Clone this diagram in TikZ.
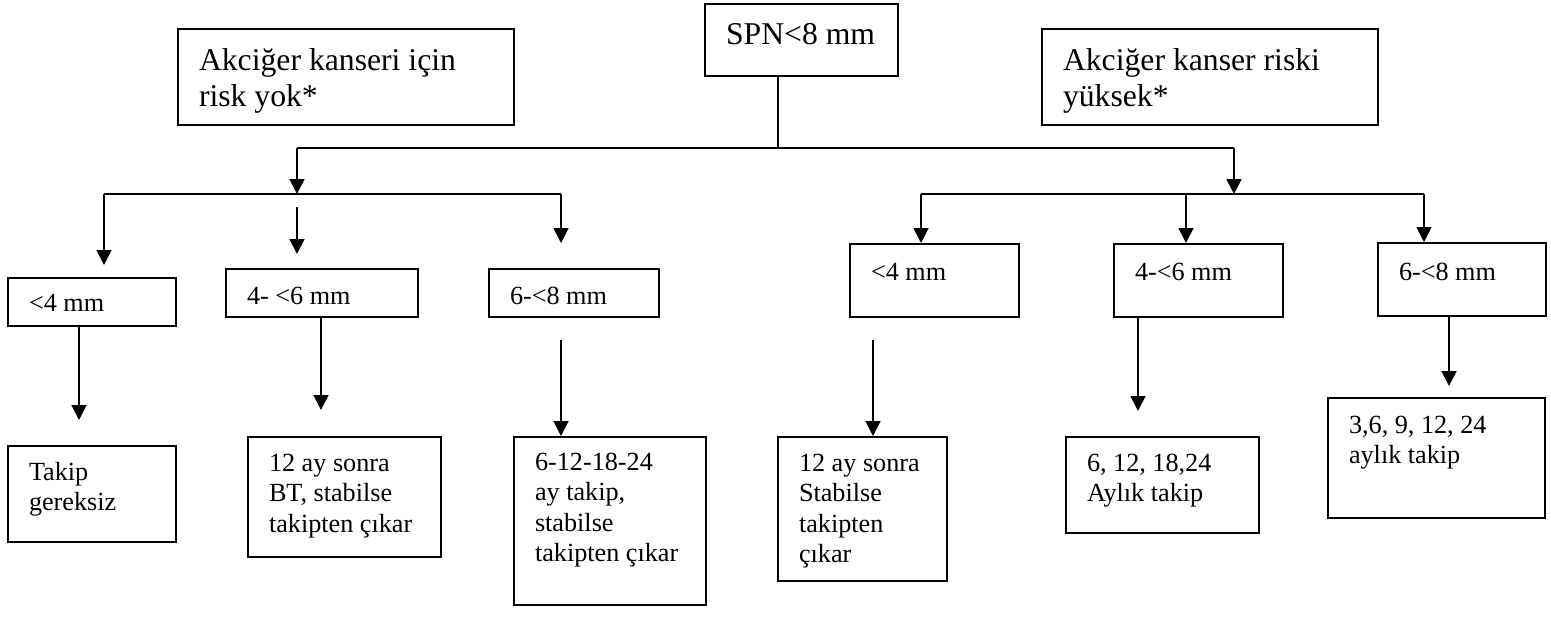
\documentclass[tikz,border=0pt]{standalone}
\usepackage{fontspec}
\setmainfont{Liberation Serif}
\usepackage{tikz}
\usetikzlibrary{arrows.meta}
\newcommand{\fchfont}{\fontsize{31.7pt}{36.5pt}\selectfont}
\newcommand{\fcbox}[6] {\node at (#1) (#2) [draw, line width=2pt, inner sep=0pt, anchor=north west, minimum width=#3pt, minimum height=#4pt] {\parbox[c][#4pt][t]{#3pt}{\raggedright\leftskip=21pt\rule{0pt}{#5pt}#6}};}
\newcommand{\fcjoin}[2] {\draw (#1) -- (#2);}
\newcommand{\fcarrow}[2] {\draw [-{Triangle[length=15pt, width=15pt]}] (#1) -- (#2);}

\begin{document}
\begin{tikzpicture}[x=1pt, y=-1pt, line width=1.8pt, font=\fontsize{26.2pt}{30.5pt}\selectfont]
\useasboundingbox (0,0) rectangle (1551,619);

\fcbox {704,3} {spn} {193} {72} {40} {\fchfont SPN<8 mm}
\fcbox {177,28} {norisk} {336} {96} {41} {\fchfont Akciğer kanseri için\\risk yok*}
\fcbox {1041,28} {highrisk} {336} {96} {41} {\fchfont Akciğer kanser riski\\yüksek*}

\fcbox {7,277} {lsmall} {168} {48} {33} {<4 mm}
\fcbox {225,268} {lmid} {192} {48} {35} {4- <6 mm}
\fcbox {488,268} {llarge} {170} {48} {35} {6-<8 mm}
\fcbox {849,243} {rsmall} {169} {73} {36} {<4 mm}
\fcbox {1113,243} {rmid} {169} {73} {36} {4-<6 mm}
\fcbox {1377,242} {rlarge} {168} {73} {37} {6-<8 mm}

\fcbox {7,445} {lsmallres} {168} {96} {34} {Takip\\gereksiz}
\fcbox {247,436} {lmidres} {193} {120} {34} {12 ay sonra\\BT, stabilse\\takipten çıkar}
\fcbox {513,436} {llargeres} {192} {168} {33} {6-12-18-24\\ay takip,\\stabilse\\takipten çıkar}
\fcbox {777,436} {rsmallres} {169} {144} {34} {12 ay sonra\\Stabilse\\takipten\\çıkar}
\fcbox {1065,436} {rmidres} {193} {96} {34} {6, 12, 18,24\\Aylık takip}
\fcbox {1327,397} {rlargeres} {217} {120} {35} {3,6, 9, 12, 24\\aylık takip}

\coordinate (split) at (778,148);
\coordinate (ltop) at (297,148);
\coordinate (rtop) at (1234,148);
\coordinate (lhub) at (297,194);
\coordinate (rhub) at (1234,194);
\coordinate (lw) at (104,194);
\coordinate (le) at (561,194);
\coordinate (rw) at (921,194);
\coordinate (rm) at (1186,194);
\coordinate (re) at (1424,194);
\coordinate (lsmallin) at (104,265);
\coordinate (lmidout) at (297,207);
\coordinate (lmidin) at (297,254);
\coordinate (llargein) at (561,243);
\coordinate (lsmalldn) at (79,420);
\coordinate (lmiddn) at (321,410);
\coordinate (llargedn) at (561,340);
\coordinate (rsmalldn) at (873,340);
\coordinate (rmiddn) at (1138,411);
\coordinate (rlargedn) at (1449,386);

\fcjoin{spn.south -| split}{split}
\fcjoin{ltop}{rtop}
\fcarrow{ltop}{lhub}
\fcarrow{rtop}{rhub}

\fcjoin{lw}{le}
\fcarrow{lw}{lsmallin}
\fcarrow{lmidout}{lmidin}
\fcarrow{le}{llargein}

\fcjoin{rw}{re}
\fcarrow{rw}{rsmall.north -| rw}
\fcarrow{rm}{rmid.north -| rm}
\fcarrow{re}{rlarge.north -| re}

\fcarrow{lsmall.south -| lsmalldn}{lsmalldn}
\fcarrow{lmid.south -| lmiddn}{lmiddn}
\fcarrow{llargedn}{llargeres.north -| llargedn}
\fcarrow{rsmalldn}{rsmallres.north -| rsmalldn}
\fcarrow{rmid.south -| rmiddn}{rmiddn}
\fcarrow{rlarge.south -| rlargedn}{rlargedn}
\end{tikzpicture}
\end{document}
